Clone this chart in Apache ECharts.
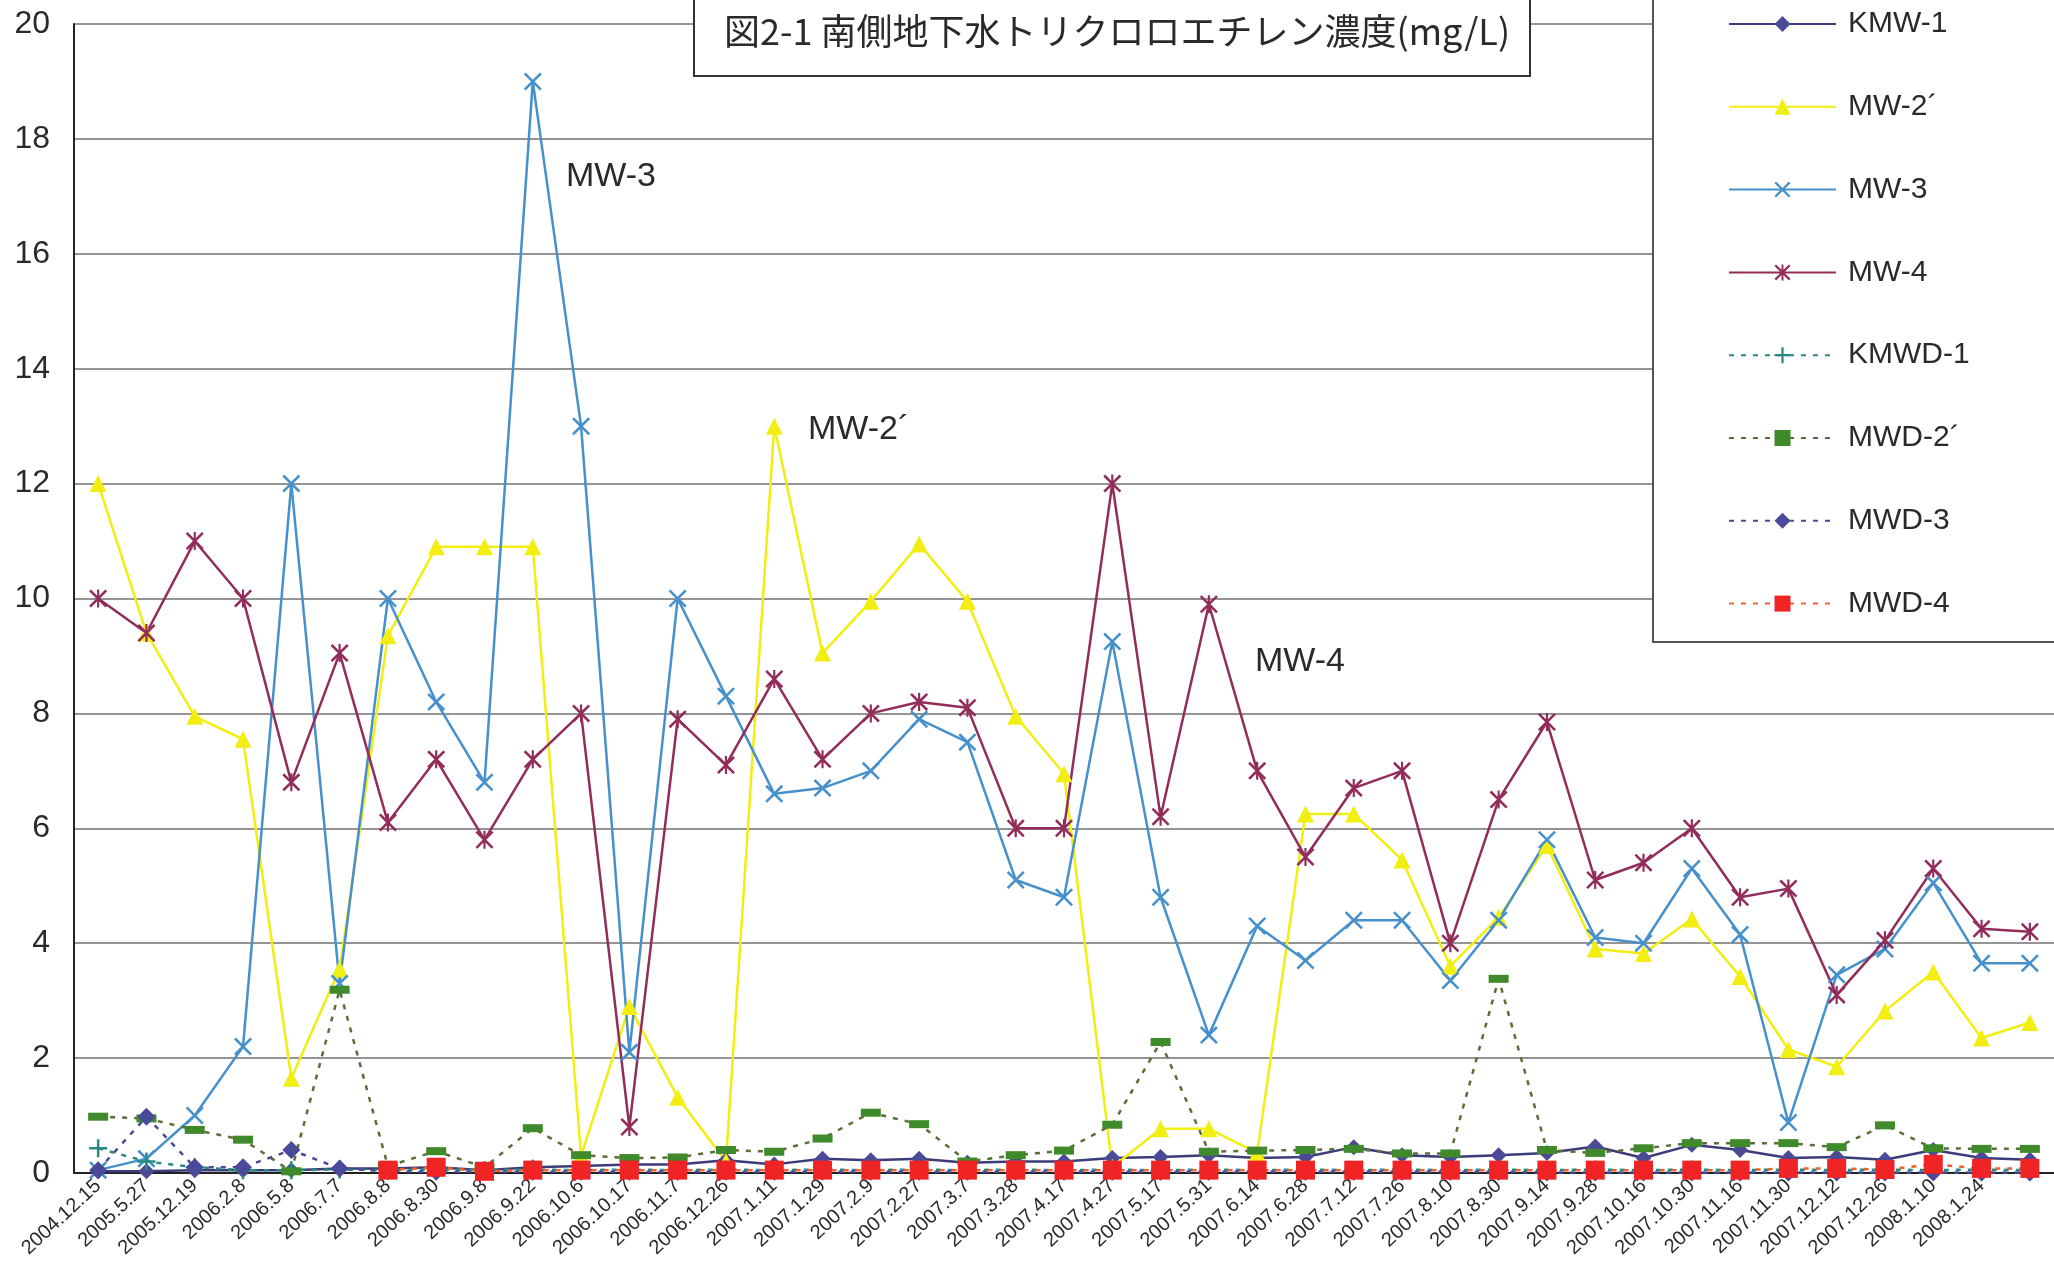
<!DOCTYPE html>
<html>
<head>
<meta charset="utf-8">
<title>南側地下水トリクロロエチレン濃度</title>
<script src="https://cdn.jsdelivr.net/npm/echarts@6.0.0/dist/echarts.min.js"></script>
<style>
  html, body { margin: 0; padding: 0; background: #fff; }
  #chart { width: 2054px; height: 1275px; }
</style>
</head>
<body>
<div id="chart"></div>
<script>
// sampling dates (the 41st label is cut off in the scan)
const dates = [
  '2004.12.15', '2005.5.27', '2005.12.19', '2006.2.8', '2006.5.8', '2006.7.7', '2006.8.8',
  '2006.8.30', '2006.9.8', '2006.9.22', '2006.10.6', '2006.10.17', '2006.11.7', '2006.12.26',
  '2007.1.11', '2007.1.29', '2007.2.9', '2007.2.27', '2007.3.7', '2007.3.28', '2007.4.17',
  '2007.4.27', '2007.5.17', '2007.5.31', '2007.6.14', '2007.6.28', '2007.7.12', '2007.7.26',
  '2007.8.10', '2007.8.30', '2007.9.14', '2007.9.28', '2007.10.16', '2007.10.30', '2007.11.16',
  '2007.11.30', '2007.12.12', '2007.12.26', '2008.1.10', '2008.1.24', ''
]

const yTicks = { min: 0, max: 20, step: 2 }

// mg/L
const kmw1 = [0.03, 0.03, 0.05, 0.05, 0.05, 0.08, 0.08, 0.1, 0.05, 0.1, 0.12, 0.15, 0.15, 0.22,
  0.15, 0.25, 0.22, 0.25, 0.18, 0.2, 0.2, 0.26, 0.28, 0.31, 0.26, 0.28, 0.45, 0.31, 0.28, 0.31,
  0.35, 0.46, 0.26, 0.49, 0.4, 0.26, 0.28, 0.23, 0.4, 0.26, 0.23]
const mw2 = [12.0, 9.4, 7.95, 7.55, 1.65, 3.55, 9.35, 10.9, 10.9, 10.9, 0.3, 2.9, 1.32, 0.2,
  13.0, 9.05, 9.95, 10.95, 9.95, 7.95, 6.95, 0.1, 0.77, 0.77, 0.35, 6.25, 6.25, 5.45, 3.6, 4.45,
  5.7, 3.9, 3.82, 4.42, 3.42, 2.15, 1.85, 2.82, 3.5, 2.35, 2.62]
const mw3 = [0.05, 0.25, 1.0, 2.2, 12.0, 3.3, 10.0, 8.2, 6.8, 19.0, 13.0, 2.1, 10.0, 8.3,
  6.6, 6.7, 7.0, 7.9, 7.5, 5.1, 4.8, 9.25, 4.8, 2.4, 4.3, 3.7, 4.4, 4.4, 3.35, 4.4,
  5.8, 4.1, 4.0, 5.3, 4.15, 0.88, 3.45, 3.9, 5.05, 3.65, 3.65]
const mw4 = [10.0, 9.4, 11.0, 10.0, 6.8, 9.05, 6.1, 7.2, 5.8, 7.2, 8.0, 0.8, 7.9, 7.1,
  8.6, 7.2, 8.0, 8.2, 8.1, 6.0, 6.0, 12.0, 6.2, 9.9, 7.0, 5.5, 6.7, 7.0, 4.0, 6.5,
  7.85, 5.1, 5.4, 6.0, 4.8, 4.95, 3.1, 4.05, 5.3, 4.25, 4.2]
const kmwd1 = [0.43, 0.2, 0.1, 0.05, 0.05, 0.06, 0.05, 0.06, 0.05, 0.06, 0.05, 0.06, 0.05, 0.06,
  0.05, 0.06, 0.05, 0.06, 0.05, 0.06, 0.05, 0.06, 0.05, 0.06, 0.05, 0.06, 0.05, 0.06, 0.05, 0.06,
  0.05, 0.06, 0.05, 0.06, 0.05, 0.06, 0.05, 0.06, 0.05, 0.06, 0.05]
const mwd2 = [0.98, 0.95, 0.75, 0.58, 0.03, 3.19, 0.12, 0.38, 0.1, 0.78, 0.31, 0.26, 0.27, 0.4,
  0.37, 0.6, 1.05, 0.85, 0.2, 0.31, 0.39, 0.84, 2.28, 0.37, 0.39, 0.4, 0.42, 0.34, 0.34, 3.38,
  0.4, 0.35, 0.43, 0.52, 0.52, 0.52, 0.45, 0.83, 0.43, 0.42, 0.42]
const mwd3 = [0.05, 0.98, 0.1, 0.1, 0.4, 0.08, 0.03, 0.02, 0.02, 0.02, 0.02, 0.02, 0.02, 0.02,
  0.02, 0.02, 0.02, 0.02, 0.02, 0.02, 0.02, 0.02, 0.02, 0.02, 0.02, 0.02, 0.02, 0.02, 0.02, 0.02,
  0.01, 0.01, 0.01, 0.01, 0.01, 0.01, 0.01, 0.01, 0.01, 0.01, 0.01]
const mwd4 = [null, null, null, null, null, null, 0.05, 0.1, 0.03, 0.05, 0.05, 0.05, 0.05, 0.05,
  0.05, 0.05, 0.05, 0.05, 0.05, 0.05, 0.05, 0.05, 0.05, 0.05, 0.05, 0.05, 0.05, 0.05, 0.05, 0.05,
  0.05, 0.05, 0.05, 0.05, 0.05, 0.08, 0.08, 0.06, 0.15, 0.08, 0.08]

// marker shapes
const crossX = 'path://M0,1L1,0L5,4L9,0L10,1L6,5L10,9L9,10L5,6L1,10L0,9L4,5Z'
const star = 'path://M0,1L1,0L5,4L9,0L10,1L6,5L10,9L9,10L5,6L1,10L0,9L4,5ZM4.4,0L5.6,0L5.6,10L4.4,10Z'
const plus = 'path://M4.3,0L5.7,0L5.7,4.3L10,4.3L10,5.7L5.7,5.7L5.7,10L4.3,10L4.3,5.7L0,5.7L0,4.3L4.3,4.3Z'

const latin = '"Liberation Sans", Arial, sans-serif'
const textColor = '#2a2a2a'
const dotted = [5, 7]

function line(name, data, color, symbol, size, dashed, lineColor) {
  return {
    name: name,
    type: 'line',
    data: data,
    symbol: symbol,
    symbolSize: size,
    connectNulls: false,
    itemStyle: { color: color },
    lineStyle: {
      color: lineColor || color,
      width: 2.5,
      type: dashed ? dotted : 'solid'
    }
  }
}

const chart = echarts.init(document.getElementById('chart'))

const option = {
  animation: false,
  backgroundColor: '#fff',
  grid: { left: 74, top: 24, width: 1985, bottom: 102 },
  xAxis: {
    type: 'category',
    data: dates,
    boundaryGap: true,
    axisLine: { lineStyle: { color: '#222', width: 2 } },
    axisTick: { show: false },
    axisLabel: {
      interval: 0,
      rotate: 43,
      margin: 10,
      fontSize: 20,
      fontFamily: latin,
      color: textColor
    }
  },
  yAxis: {
    type: 'value',
    min: yTicks.min,
    max: yTicks.max,
    interval: yTicks.step,
    axisLine: { show: true, lineStyle: { color: '#222', width: 2 } },
    axisTick: { show: false },
    axisLabel: { fontSize: 32, fontFamily: latin, color: textColor, margin: 24 },
    splitLine: { lineStyle: { color: '#707070', width: 1.5 } }
  },
  legend: {
    orient: 'vertical',
    left: 1728,
    top: 9,
    padding: 0,
    itemWidth: 107,
    itemHeight: 20,
    itemGap: 52.8,
    z: 20,
    textStyle: { fontSize: 30, fontFamily: latin, color: textColor, padding: [0, 0, 0, 7] }
  },
  graphic: [
    // legend frame
    { type: 'rect', z: 5, shape: { x: 1653, y: -5, width: 420, height: 647 },
      style: { fill: '#fff', stroke: '#555', lineWidth: 2 } },
    // title frame
    { type: 'rect', z: 5, shape: { x: 694, y: -5, width: 836, height: 81 },
      style: { fill: '#fff', stroke: '#333', lineWidth: 2 } },
    { type: 'text', z: 6, x: 724, y: 31,
      style: { text: '図2-1 南側地下水トリクロロエチレン濃度(mg/L)', fill: textColor,
        font: '36px "Noto Sans CJK JP"', verticalAlign: 'middle' } },
    // series labels inside the plot
    { type: 'text', z: 6, x: 566, y: 177,
      style: { text: 'MW-3', fill: textColor, font: '34px ' + latin, verticalAlign: 'middle' } },
    { type: 'text', z: 6, x: 808, y: 430,
      style: { text: 'MW-2´', fill: textColor, font: '34px ' + latin, verticalAlign: 'middle' } },
    { type: 'text', z: 6, x: 1255, y: 662,
      style: { text: 'MW-4', fill: textColor, font: '34px ' + latin, verticalAlign: 'middle' } }
  ],
  series: [
    line('KMW-1', kmw1, '#4a4a96', 'diamond', 16, false, '#3c3c7a'),
    line('MW-2´', mw2, '#f2ee12', 'triangle', 17, false),
    line('MW-3', mw3, '#4690cc', crossX, 18, false),
    line('MW-4', mw4, '#922c5a', star, 18, false),
    line('KMWD-1', kmwd1, '#2a8a80', plus, 18, true),
    line('MWD-2´', mwd2, '#3f8a2a', 'rect', [20, 8], true, '#5b6e3a'),
    line('MWD-3', mwd3, '#4a4a9a', 'diamond', 18, true),
    line('MWD-4', mwd4, '#f02424', 'rect', 19, true, '#f06030')
  ]
}

chart.setOption(option)
window.addEventListener('resize', () => chart.resize())
</script>
</body>
</html>
